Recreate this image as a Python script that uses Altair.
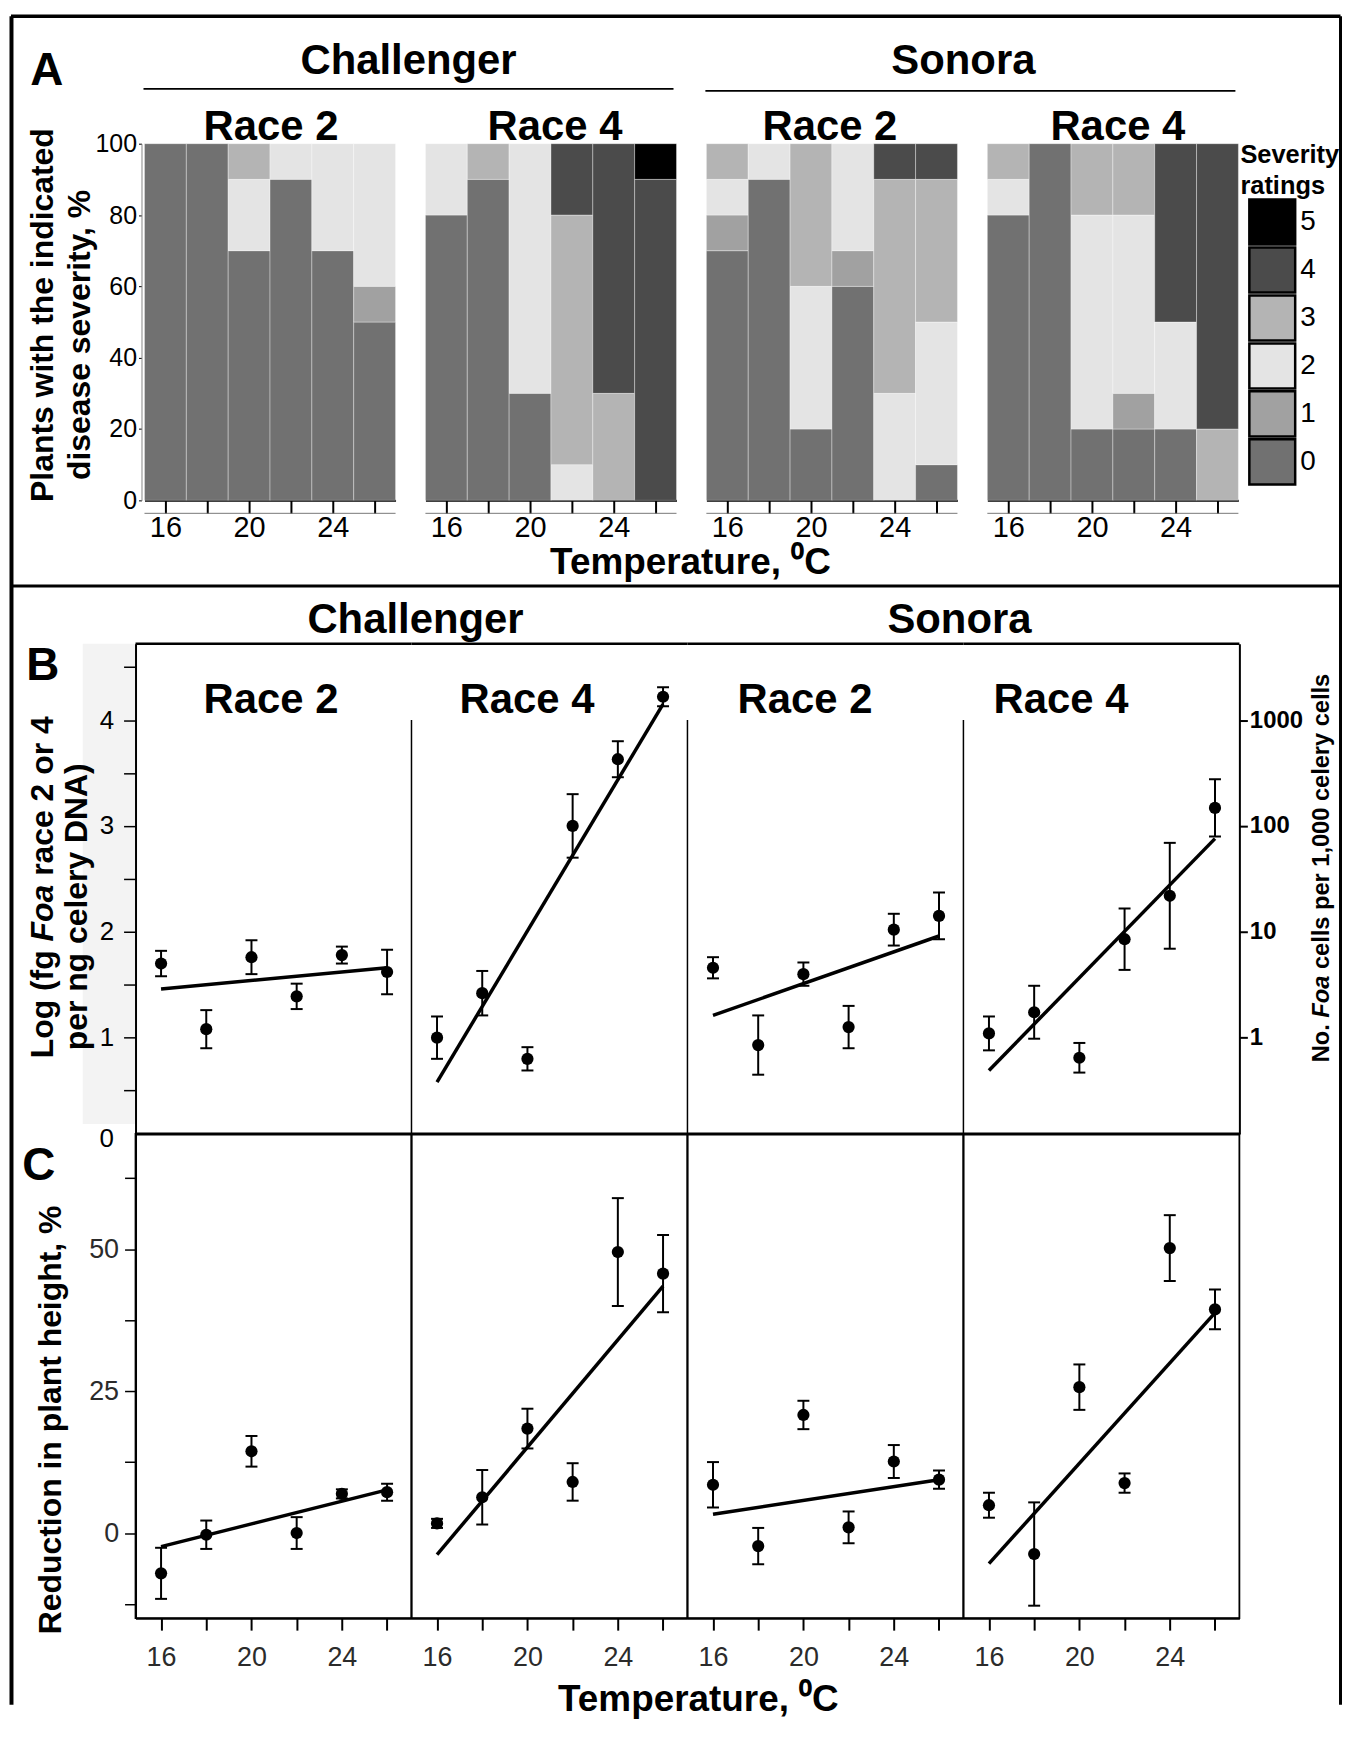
import altair as alt
import pandas as pd

FONT = "Liberation Sans, Arial, Helvetica, sans-serif"

# ---------------- data ----------------
temps = [16, 18, 20, 22, 24, 26]
severity_levels = ["0", "1", "2", "3", "4", "5"]
severity_colors = ["#717171", "#a1a1a1", "#e4e4e4", "#b4b4b4", "#4b4b4b", "#000000"]

# Panel A: % of plants in each severity class (rows = severity 0..5, columns = temps)
a_challenger_r2 = [
    [100, 100, 70, 90, 70, 50],
    [0, 0, 0, 0, 0, 10],
    [0, 0, 20, 10, 30, 40],
    [0, 0, 10, 0, 0, 0],
    [0, 0, 0, 0, 0, 0],
    [0, 0, 0, 0, 0, 0],
]
a_challenger_r4 = [
    [80, 90, 30, 0, 0, 0],
    [0, 0, 0, 0, 0, 0],
    [20, 0, 70, 10, 0, 0],
    [0, 10, 0, 70, 30, 0],
    [0, 0, 0, 20, 70, 90],
    [0, 0, 0, 0, 0, 10],
]
a_sonora_r2 = [
    [70, 90, 20, 60, 0, 10],
    [10, 0, 0, 10, 0, 0],
    [10, 10, 40, 30, 30, 40],
    [10, 0, 40, 0, 60, 40],
    [0, 0, 0, 0, 10, 10],
    [0, 0, 0, 0, 0, 0],
]
a_sonora_r4 = [
    [80, 100, 20, 20, 20, 0],
    [0, 0, 0, 10, 0, 0],
    [10, 0, 60, 50, 30, 0],
    [10, 0, 20, 20, 0, 20],
    [0, 0, 0, 0, 50, 80],
    [0, 0, 0, 0, 0, 0],
]

# Panel B: log (fg Foa per ng celery DNA), mean, error, fitted line at 16 and 26 C
b_challenger_r2_mean = [1.70, 1.08, 1.76, 1.39, 1.78, 1.62]
b_challenger_r2_err = [0.12, 0.18, 0.16, 0.12, 0.08, 0.21]
b_challenger_r2_fit = [1.46, 1.66]
b_challenger_r4_mean = [1.00, 1.42, 0.80, 3.00, 3.63, 4.22]
b_challenger_r4_err = [0.20, 0.21, 0.11, 0.30, 0.17, 0.09]
b_challenger_r4_fit = [0.58, 4.15]
b_sonora_r2_mean = [1.66, 0.93, 1.60, 1.10, 2.02, 2.15]
b_sonora_r2_err = [0.10, 0.28, 0.11, 0.20, 0.15, 0.22]
b_sonora_r2_fit = [1.21, 1.96]
b_sonora_r4_mean = [1.04, 1.24, 0.81, 1.93, 2.34, 3.17]
b_sonora_r4_err = [0.16, 0.25, 0.14, 0.29, 0.50, 0.27]
b_sonora_r4_fit = [0.69, 2.88]

# Panel C: reduction in plant height, %
c_challenger_r2_mean = [-7.1, -0.3, 14.4, 0.0, 6.9, 7.2]
c_challenger_r2_err = [4.5, 2.5, 2.7, 2.8, 0.8, 1.5]
c_challenger_r2_fit = [-2.4, 7.6]
c_challenger_r4_mean = [1.7, 6.3, 18.4, 9.0, 49.5, 45.7]
c_challenger_r4_err = [0.8, 4.8, 3.5, 3.3, 9.5, 6.8]
c_challenger_r4_fit = [-3.8, 43.5]
c_sonora_r2_mean = [8.5, -2.3, 20.8, 1.0, 12.6, 9.4]
c_sonora_r2_err = [4.0, 3.2, 2.5, 2.8, 2.9, 1.6]
c_sonora_r2_fit = [3.3, 9.4]
c_sonora_r4_mean = [4.9, -3.7, 25.7, 8.8, 50.2, 39.4]
c_sonora_r4_err = [2.2, 9.1, 4.0, 1.7, 5.8, 3.5]
c_sonora_r4_fit = [-5.4, 38.8]

b_left_ticks = [0.5, 1, 1.5, 2, 2.5, 3, 3.5, 4, 4.5]
b_right_ticks = [1, 2, 3, 4]
c_left_ticks = [-12.5, 0, 12.5, 25, 37.5, 50, 62.5]
a_left_ticks = [0, 20, 40, 60, 80, 100]

# ---------------- layout ----------------
W, HA, HB, HC = 277, 358, 492, 486
HA_VIEW = 502          # row A cell height (heatmap 358 + gap to panel B)
A_OFF = [9, 14, 19, 24]
A_W = 252
OX, OY = 1244, 1135    # page position of the last cell (carries the global decorations)
X_DOM = [14.87, 27.08]
B_DOM = [0.09, 4.72]
C_DOM = [-15, 70.3]

one = pd.DataFrame({"k": [0]})


def txt(s, x, y, size, weight="bold", style="normal", angle=0, align="center",
        baseline="middle", color="black"):
    return alt.Chart(one).mark_text(
        text=s, font=FONT, fontSize=size, fontWeight=weight, fontStyle=style,
        angle=angle, align=align, baseline=baseline, color=color
    ).encode(x=alt.value(x), y=alt.value(y))


def gtxt(s, xp, yp, size, **kw):
    return txt(s, xp - OX, yp - OY, size, **kw)


def hrule(x1, x2, y, w, color="black"):
    return alt.Chart(one).mark_rule(color=color, strokeWidth=w).encode(
        x=alt.value(x1), x2=alt.value(x2), y=alt.value(y))


def vrule(x, y1, y2, w, color="black"):
    return alt.Chart(one).mark_rule(color=color, strokeWidth=w).encode(
        x=alt.value(x), y=alt.value(y1), y2=alt.value(y2))


color_scale = alt.Scale(domain=severity_levels, range=severity_colors)


def heat_df(counts):
    rows = []
    for j, t in enumerate(temps):
        lo = 0
        for s in range(6):
            v = counts[s][j]
            if v > 0:
                rows.append(dict(t0=t - 1, t1=t + 1, lo=lo, hi=lo + v, sev=str(s)))
                lo += v
    return pd.DataFrame(rows)


def heat_panel(i, counts, race, race_x):
    df = heat_df(counts)
    xs = alt.Scale(domain=[15, 27], range=[A_OFF[i], A_OFF[i] + A_W], nice=False, zero=False)
    ys = alt.Scale(domain=[0, 100], range=[HA, 0], nice=False, zero=False)
    xaxis = alt.Axis(values=temps,
                     labelExpr="datum.value % 4 == 0 ? format(datum.value, 'd') : ''",
                     title=None, tickSize=13, tickWidth=2, domainWidth=2, labelFontSize=29,
                     labelPadding=0, labelFlush=False, labelOverlap=False,
                     offset=HA - HA_VIEW)
    if i == 0:
        yaxis = alt.Axis(values=a_left_ticks, title=None, tickSize=3, tickWidth=1,
                         domainWidth=1, domainColor="#888888", labelFontSize=25,
                         labelPadding=2, offset=-6, labelOverlap=False)
    else:
        yaxis = None
    rects = alt.Chart(df).mark_rect(stroke="white", strokeOpacity=0.35, strokeWidth=1).encode(
        x=alt.X("t0:Q", scale=xs, axis=xaxis), x2="t1:Q",
        y=alt.Y("lo:Q", scale=ys, axis=yaxis), y2="hi:Q",
        color=alt.Color("sev:N", scale=color_scale, legend=None))
    under = hrule(A_OFF[i], A_OFF[i] + A_W, HA + 13, 1, color="#777777")
    return alt.layer(rects, under, txt(race, race_x, -17, 42)).properties(width=W, height=HA_VIEW)


def legend_panel():
    legend_df = pd.DataFrame({"sev": severity_levels})
    ly = alt.Scale(type="band", domain=severity_levels[::-1], range=[56, 342],
                   paddingInner=0.06, paddingOuter=0)
    boxes = alt.Chart(legend_df).mark_rect(stroke="black", strokeWidth=2.5).encode(
        x=alt.value(10), x2=alt.value(56),
        y=alt.Y("sev:O", scale=ly, axis=None),
        color=alt.Color("sev:N", scale=color_scale, legend=None))
    labs = alt.Chart(legend_df).mark_text(font=FONT, fontSize=28, align="left",
                                          baseline="middle", color="black").encode(
        x=alt.value(61), y=alt.Y("sev:O", scale=ly, axis=None), text="sev:N")
    return alt.layer(boxes, labs,
                     txt("Severity", 1, 11, 25.5, align="left"),
                     txt("ratings", 1, 42, 25.5, align="left")).properties(width=98, height=HA_VIEW)


def err_panel(mean, err, fit, ydom, height, yaxis=None, xaxis=None, extra=None,
              view=None, pre=None):
    df = pd.DataFrame({"t": temps, "m": mean,
                       "lo": [m - e for m, e in zip(mean, err)],
                       "hi": [m + e for m, e in zip(mean, err)]})
    fit_df = pd.DataFrame({"t": [16, 26], "m": fit})
    xs = alt.Scale(domain=X_DOM, nice=False, zero=False)
    ys = alt.Scale(domain=ydom, nice=False, zero=False)
    X = lambda f: alt.X(f, scale=xs, axis=None)
    Y = lambda f: alt.Y(f, scale=ys, axis=None)
    # the fitted line carries the (only) axes of the panel
    line = alt.Chart(fit_df).mark_line(color="black", strokeWidth=3.5).encode(
        x=alt.X("t:Q", scale=xs, axis=xaxis), y=alt.Y("m:Q", scale=ys, axis=yaxis))
    bars = alt.Chart(df).mark_rule(color="black", strokeWidth=2).encode(
        x=X("t:Q"), y=Y("lo:Q"), y2="hi:Q")
    cap_lo = alt.Chart(df).mark_tick(color="black", orient="horizontal", size=12,
                                     thickness=2, opacity=1).encode(x=X("t:Q"), y=Y("lo:Q"))
    cap_hi = alt.Chart(df).mark_tick(color="black", orient="horizontal", size=12,
                                     thickness=2, opacity=1).encode(x=X("t:Q"), y=Y("hi:Q"))
    pts = alt.Chart(df).mark_circle(color="black", size=150, opacity=1).encode(
        x=X("t:Q"), y=Y("m:Q"))
    layers = (pre or []) + [line, bars, cap_lo, cap_hi, pts] + (extra or [])
    ch = alt.layer(*layers).resolve_axis(x="independent", y="independent").properties(
        width=W, height=height)
    if view is not None:
        ch = ch.properties(view=view)
    return ch


# ---------------- global decorations (drawn last, relative to last cell) ----------------
def rot_pieces(x, y_bottom, size, pieces):
    out = []
    y = y_bottom
    for s, style, w_em in pieces:
        out.append(gtxt(s, x, y, size, style=style, angle=270, align="left"))
        y -= w_em * size
    return out


RIGHT = 1345.5
BOTTOM = 1708
decor = [
    hrule(11 - OX, RIGHT - OX, 13 - OY, 3.5),
    vrule(11.5 - OX, 13 - OY, BOTTOM - OY, 4),
    vrule(RIGHT - OX, 13 - OY, BOTTOM - OY, 3),
    hrule(11 - OX, RIGHT - OX, 585 - OY, 3),
    gtxt("A", 47, 68, 46),
    gtxt("Challenger", 410, 58, 42),
    gtxt("Sonora", 967, 58, 42),
    hrule(144 - OX, 676 - OX, 86 - OY, 1.8),
    hrule(708 - OX, 1240 - OX, 88 - OY, 1.8),
    gtxt("Plants with the indicated", 43, 313, 32, angle=270),
    gtxt("disease severity, %", 80, 333, 32, angle=270),
    gtxt("Temperature, \u2070C", 693, 562, 37),
    gtxt("B", 43, 665, 46),
    gtxt("Challenger", 417, 619, 42),
    gtxt("Sonora", 963, 619, 42),
    gtxt("per ng celery DNA)", 77, 907, 32, angle=270),
    gtxt("0", 107, 1140, 26, weight="normal"),
    gtxt("C", 39, 1167, 46),
    gtxt("Reduction in plant height, %", 51, 1422, 32, angle=270),
    gtxt("Temperature, \u2070C", 701, 1703, 37),
]
decor += rot_pieces(43, 1059, 32, [("Log (fg", "normal", 3.666),
                                    ("Foa", "italic", 2.056),
                                    ("race 2 or 4", "normal", 5.0)])
decor += rot_pieces(1327, 1063, 23.7, [("No.", "normal", 1.889),
                                        ("Foa", "italic", 2.056),
                                        ("cells per 1,000 celery cells", "normal", 12.5)])


def placeholder(h, extra=None):
    base = alt.Chart(one).mark_point(opacity=0).encode(x=alt.value(0), y=alt.value(0))
    return alt.layer(base, *(extra or [])).properties(width=98, height=h)


# ---------------- panel B ----------------
b_left_axis = alt.Axis(values=b_left_ticks,
                       labelExpr="datum.value % 1 == 0 ? format(datum.value, 'd') : ''",
                       title=None, tickSize=12, tickWidth=1.5, domainWidth=2,
                       labelFontSize=26, labelPadding=10, labelOverlap=False, zindex=2)
b_right_axis = alt.Axis(values=b_right_ticks, orient="right",
                        labelExpr="format(pow(10, datum.value - 1), 'd')",
                        title=None, tickSize=8, tickWidth=2, domainWidth=2,
                        labelFontSize=24, labelFontWeight="bold", labelPadding=2,
                        labelOverlap=False, zindex=2)


def b_extra(race, race_x, divider):
    ex = [hrule(0, W, 0, 2.5), txt(race, race_x, 56, 42)]
    if divider:
        ys = alt.Scale(domain=B_DOM, nice=False, zero=False)
        ex.append(alt.Chart(pd.DataFrame({"v": [4.0]})).mark_rule(
            color="black", strokeWidth=1.5).encode(
            x=alt.value(0), y=alt.Y("v:Q", scale=ys, axis=None), y2=alt.value(HB)))
    return ex


b_axis_band = [alt.Chart(one).mark_rect(color="#f3f3f3").encode(
    x=alt.value(83 - 136), x2=alt.value(0), y=alt.value(0), y2=alt.value(HB - 10))]

# ---------------- panel C ----------------
c_x_axis = alt.Axis(values=temps,
                    labelExpr="datum.value % 4 == 0 ? format(datum.value, 'd') : ''",
                    title=None, tickSize=12, tickWidth=2, domainWidth=2,
                    labelFontSize=27, labelColor="#2b2b2b", labelPadding=15,
                    labelFlush=False, labelOverlap=False, zindex=2)
c_left_axis = alt.Axis(values=c_left_ticks,
                       labelExpr="datum.value % 25 == 0 ? format(datum.value, 'd') : ''",
                       title=None, tickSize=11, tickWidth=1.5, domainWidth=2,
                       labelFontSize=27, labelColor="#2b2b2b", labelPadding=6,
                       labelOverlap=False, zindex=2)
c_view = alt.ViewBackground(stroke="black", strokeWidth=1.8)
c_top = [hrule(0, W, 0, 3)]

cells = [
    # row A
    heat_panel(0, a_challenger_r2, "Race 2", 136),
    heat_panel(1, a_challenger_r4, "Race 4", 144),
    heat_panel(2, a_sonora_r2, "Race 2", 143),
    heat_panel(3, a_sonora_r4, "Race 4", 155),
    legend_panel(),
    # row B
    err_panel(b_challenger_r2_mean, b_challenger_r2_err, b_challenger_r2_fit, B_DOM, HB,
              yaxis=b_left_axis, extra=b_extra("Race 2", 136, False), pre=b_axis_band),
    err_panel(b_challenger_r4_mean, b_challenger_r4_err, b_challenger_r4_fit, B_DOM, HB,
              extra=b_extra("Race 4", 116, True)),
    err_panel(b_sonora_r2_mean, b_sonora_r2_err, b_sonora_r2_fit, B_DOM, HB,
              extra=b_extra("Race 2", 118, True)),
    err_panel(b_sonora_r4_mean, b_sonora_r4_err, b_sonora_r4_fit, B_DOM, HB,
              yaxis=b_right_axis, extra=b_extra("Race 4", 98, True)),
    placeholder(HB),
    # row C
    err_panel(c_challenger_r2_mean, c_challenger_r2_err, c_challenger_r2_fit, C_DOM, HC,
              yaxis=c_left_axis, xaxis=c_x_axis, view=c_view, extra=c_top),
    err_panel(c_challenger_r4_mean, c_challenger_r4_err, c_challenger_r4_fit, C_DOM, HC,
              xaxis=c_x_axis, view=c_view, extra=c_top),
    err_panel(c_sonora_r2_mean, c_sonora_r2_err, c_sonora_r2_fit, C_DOM, HC,
              xaxis=c_x_axis, view=c_view, extra=c_top),
    err_panel(c_sonora_r4_mean, c_sonora_r4_err, c_sonora_r4_fit, C_DOM, HC,
              xaxis=c_x_axis, view=c_view, extra=c_top),
    placeholder(HC, extra=decor),
]

chart = alt.concat(*cells, columns=5, spacing=0, bounds="flush").resolve_scale(
    x="independent", y="independent"
).properties(
    padding={"left": 1, "top": 3, "right": 0, "bottom": 0},
    background="white",
).configure_view(stroke=None).configure_axis(
    grid=False, domainColor="black", tickColor="black", labelColor="black",
    labelFont=FONT, titleFont=FONT,
)

chart.save("out.html", embed_options={"renderer": "svg", "actions": False})
